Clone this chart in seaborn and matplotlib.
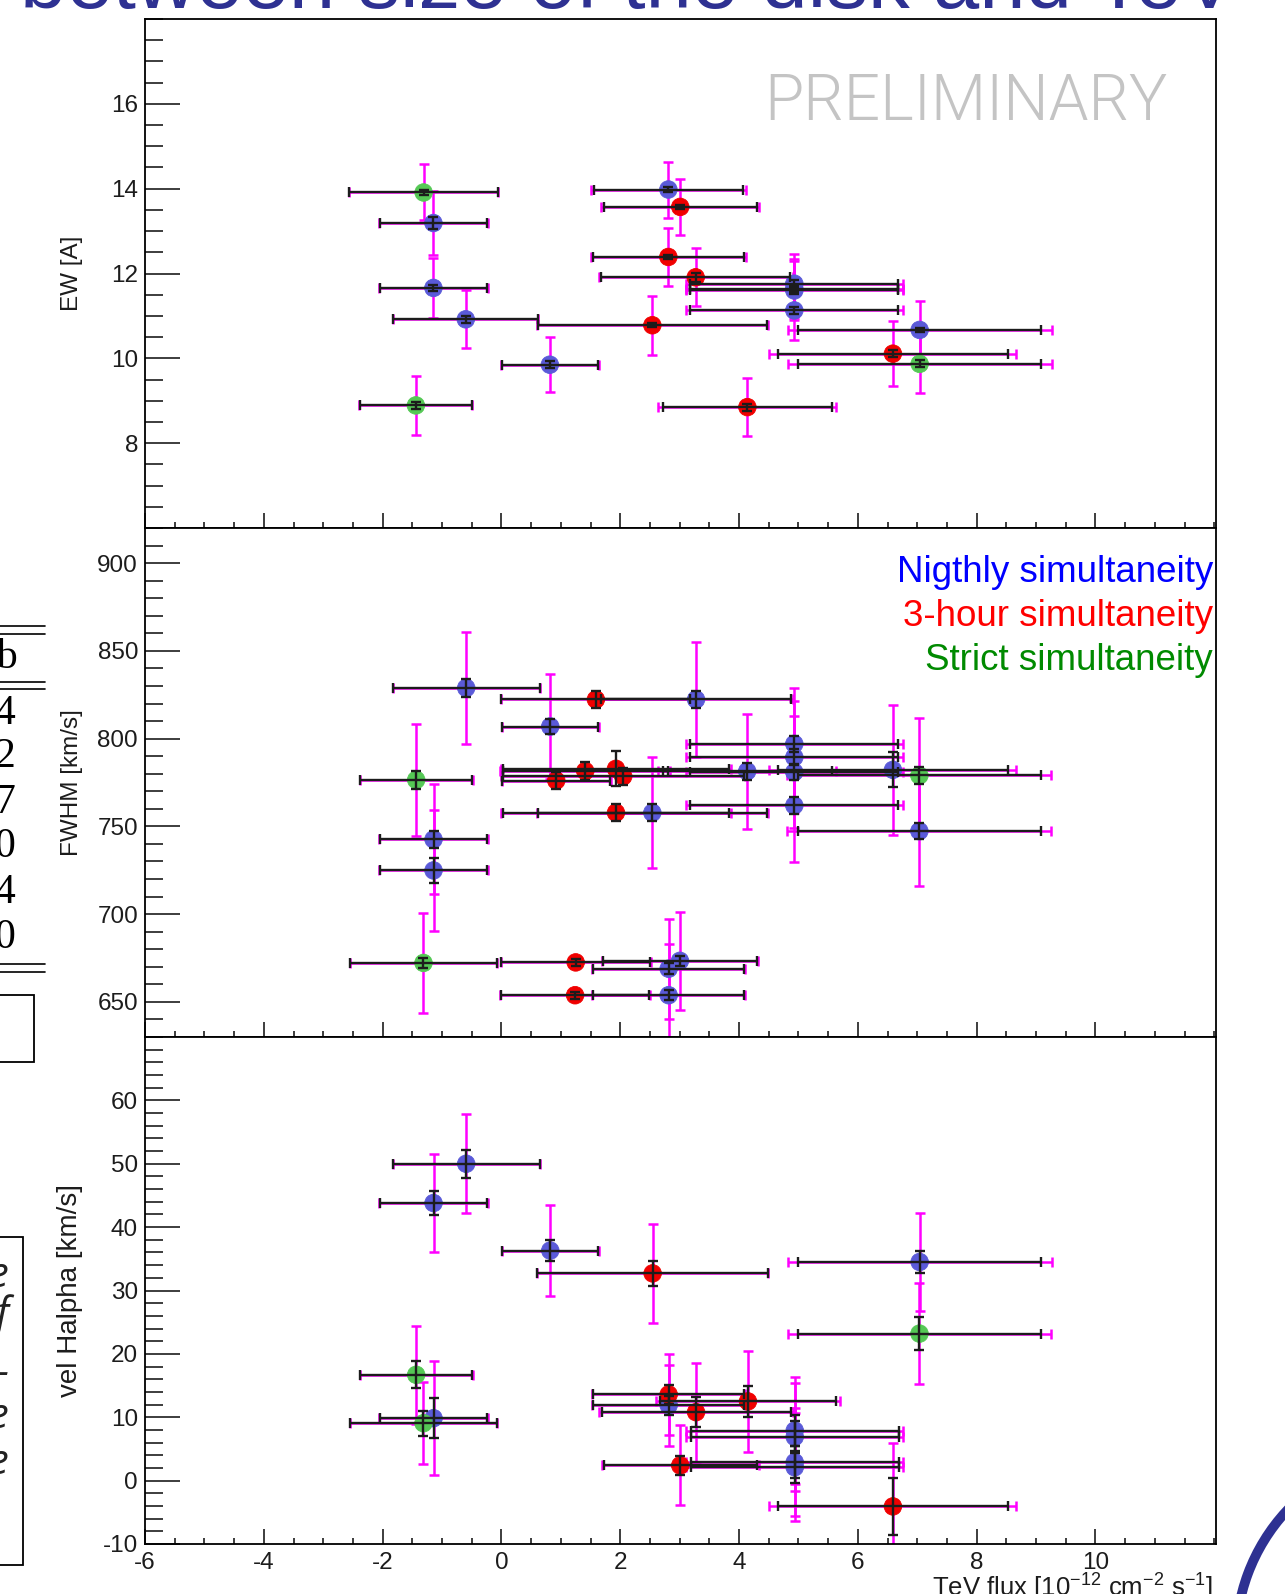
import numpy as np
import pandas as pd
import matplotlib
matplotlib.use("Agg")
import matplotlib.pyplot as plt
import seaborn as sns
from matplotlib.patches import Arc, Rectangle
from matplotlib.lines import Line2D
from matplotlib.ticker import MultipleLocator, FixedLocator, FormatStrFormatter

# ---------------- data ----------------
CATS = ["Nigthly", "3-hour", "Strict"]

# Panel 1 : EW [A]
EW_x    = [-1.31, -1.145, -1.145, -0.60, 0.815, -1.44, 2.81, 3.01, 2.81, 3.27, 4.93, 4.93, 4.93, 4.93, 2.54, 4.14, 7.04, 6.59, 7.04]
EW_xerr = [1.25, 0.90, 0.90, 1.22, 0.81, 0.94, 1.26, 1.29, 1.27, 1.59, 1.75, 1.75, 1.75, 1.75, 1.93, 1.42, 2.05, 1.93, 2.05]
EW_xsys = [1.25, 0.92, 0.92, 1.22, 0.82, 0.95, 1.30, 1.33, 1.30, 1.63, 1.83, 1.83, 1.83, 1.83, 1.94, 1.50, 2.22, 2.08, 2.22]
EW_y    = [13.91, 13.19, 11.66, 10.92, 9.85, 8.89, 13.98, 13.57, 12.39, 11.91, 11.76, 11.64, 11.60, 11.13, 10.78, 8.85, 10.67, 10.11, 9.87]
EW_yerr = [0.05, 0.14, 0.08, 0.08, 0.08, 0.08, 0.05, 0.05, 0.05, 0.10, 0.08, 0.08, 0.08, 0.08, 0.05, 0.08, 0.05, 0.08, 0.08]
EW_ysys = [0.66, 0.75, 0.71, 0.68, 0.65, 0.69, 0.66, 0.66, 0.68, 0.68, 0.70, 0.70, 0.70, 0.70, 0.69, 0.69, 0.67, 0.76, 0.68]
EW_cat  = ["Strict", "Nigthly", "Nigthly", "Nigthly", "Nigthly", "Strict", "Nigthly", "3-hour", "3-hour", "3-hour",
           "Nigthly", "Nigthly", "Nigthly", "Nigthly", "3-hour", "3-hour", "Nigthly", "3-hour", "Strict"]

# Panel 2 : FWHM [km/s]
FW_x    = [-0.593, 0.822, -1.143, -1.143, 3.276, 2.54, 4.137, 4.93, 4.93, 4.93, 4.93, 6.59, 7.035, 2.815, 3.005, 2.815,
           1.59, 0.923, 1.411, 1.928, 2.05, 1.928, 1.25, 1.24, -1.435, -1.312, 7.035]
FW_xerr = [1.24, 0.81, 0.90, 0.90, 1.60, 1.93, 1.42, 1.75, 1.75, 1.75, 1.75, 1.93, 2.05, 1.27, 1.29, 1.27,
           1.59, 0.91, 1.39, 1.91, 2.03, 1.91, 1.25, 1.24, 0.94, 1.245, 2.05]
FW_xsys = [1.24, 0.82, 0.92, 0.92, 1.63, 1.94, 1.50, 1.83, 1.83, 1.83, 1.83, 2.08, 2.22, 1.29, 1.32, 1.29,
           1.60, 0.92, 1.43, 1.93, 2.05, 1.93, 1.26, 1.26, 0.95, 1.245, 2.22]
FW_y    = [828.9, 806.9, 742.6, 724.9, 822.3, 757.8, 781.4, 797.0, 789.4, 780.9, 761.9, 782.2, 747.3, 668.9, 673.4, 653.8,
           822.3, 776.1, 781.5, 782.8, 778.5, 757.8, 672.5, 653.8, 776.5, 672.2, 779.0]
FW_yerr = [5, 4, 4.7, 7, 4.7, 4.7, 4.7, 4.7, 4.7, 4.7, 4.7, 10, 4.7, 3, 3, 3,
           5, 5, 5, 10, 5, 5, 2, 2, 5, 3, 5]
FW_ysys = [32, 30, 31.3, 34.5, 32.6, 31.7, 32.7, 32, 32, 32, 32, 37, 31.3, 28.5, 28, 29,
           0, 0, 0, 0, 0, 0, 0, 0, 32, 28.6, 32.6]
FW_cat  = ["Nigthly"] * 16 + ["3-hour"] * 8 + ["Strict"] * 3

# Panel 3 : vel Halpha [km/s]
VE_x    = [-0.593, -1.143, 0.822, 7.04, -1.143, 2.815, 4.937, 4.937, 4.937, 4.937,
           2.545, 2.815, 4.15, 3.276, 3.01, 6.59, -1.435, -1.312, 7.037]
VE_xerr = [1.24, 0.90, 0.81, 2.05, 0.90, 1.27, 1.75, 1.75, 1.75, 1.75,
           1.94, 1.27, 1.48, 1.59, 1.29, 1.93, 0.94, 1.245, 2.05]
VE_xsys = [1.24, 0.92, 0.82, 2.22, 0.92, 1.29, 1.83, 1.83, 1.83, 1.83,
           1.95, 1.29, 1.55, 1.63, 1.32, 2.08, 0.95, 1.245, 2.22]
VE_y    = [50.0, 43.8, 36.3, 34.5, 9.85, 11.9, 7.9, 6.9, 2.9, 2.1,
           32.7, 13.6, 12.5, 10.8, 2.4, -4.07, 16.7, 9.06, 23.2]
VE_yerr = [2.2, 1.9, 1.7, 1.8, 3.2, 1.5, 2.5, 2.5, 2.5, 2.5,
           2.0, 1.5, 2.5, 2.4, 1.5, 4.5, 2.1, 2.0, 2.6]
VE_ysys = [7.8, 7.7, 7.2, 7.7, 9.0, 6.4, 8.5, 8.5, 8.5, 8.5,
           7.8, 6.4, 8.0, 7.8, 6.3, 10.0, 7.7, 6.5, 8.0]
VE_cat  = ["Nigthly"] * 10 + ["3-hour"] * 6 + ["Strict"] * 3

X_TICKS = [-6, -4, -2, 0, 2, 4, 6, 8, 10]
EW_TICKS = [8, 10, 12, 14, 16]
FW_TICKS = [650, 700, 750, 800, 850, 900]
VE_TICKS = [-10, 0, 10, 20, 30, 40, 50, 60]

# ---------------- style ----------------
sns.set_theme(style="ticks")
plt.rcParams['font.family'] = ['Liberation Sans', 'DejaVu Sans']
plt.rcParams['axes.unicode_minus'] = False
plt.rcParams['mathtext.default'] = 'regular'

PAL = {"Nigthly": "#5a5ad8", "3-hour": "#f00000", "Strict": "#55c855"}
MAG = "#ff00ff"
INK = "#1c1c1c"

W, H = 1285, 1594
fig = plt.figure(figsize=(W / 100, H / 100), dpi=100)
fig.patch.set_facecolor("white")

def fy(py):
    return 1 - py / H

L, R = 145, 1215.5
ax_top = fig.add_axes([L / W, fy(528), (R - L) / W, (528 - 19) / H])
ax_mid = fig.add_axes([L / W, fy(1037), (R - L) / W, (1037 - 528) / H])
ax_bot = fig.add_axes([L / W, fy(1544), (R - L) / W, (1544 - 1037) / H])


def panel(ax, x, xe, xs, y, ye, ys, cat):
    df = pd.DataFrame(dict(px=x, pxe=xe, pxs=xs, py=y, pye=ye, pys=ys, cat=cat))
    ax.errorbar(df['px'], df['py'], xerr=df['pxs'], fmt='none', ecolor=MAG, elinewidth=1.8,
                capsize=3.8, capthick=1.8, zorder=2)
    m = df['pys'] > 0
    ax.errorbar(df['px'][m], df['py'][m], yerr=df['pys'][m], fmt='none', ecolor=MAG, elinewidth=1.8,
                capsize=3.8, capthick=1.8, zorder=2)
    sns.scatterplot(data=df, x='px', y='py', hue='cat', palette=PAL, hue_order=CATS,
                    s=160, linewidth=0.6, edgecolor='face', legend=False, ax=ax, zorder=3)
    ax.errorbar(df['px'], df['py'], xerr=df['pxe'], yerr=df['pye'], fmt='none', ecolor=INK, elinewidth=1.7,
                capsize=3.3, capthick=1.7, zorder=4)


def style_axis(ax, ylim, yticks, yminor, ylabel, show_x, lab_size=17.5):
    ax.set_xlim(-6, 12.02)
    ax.set_ylim(*ylim)
    ax.xaxis.set_major_locator(FixedLocator(X_TICKS))
    ax.xaxis.set_minor_locator(MultipleLocator(0.5))
    ax.yaxis.set_major_locator(FixedLocator(yticks))
    ax.yaxis.set_minor_locator(MultipleLocator(yminor))
    ax.xaxis.set_major_formatter(FormatStrFormatter('%d'))
    ax.yaxis.set_major_formatter(FormatStrFormatter('%d'))
    ax.tick_params(axis='y', which='major', direction='in', length=25, width=1.2,
                   labelsize=17.5, pad=5, left=True, right=False, colors=INK)
    ax.tick_params(axis='y', which='minor', direction='in', length=12.6, width=1.2,
                   left=True, right=False, colors=INK)
    ax.tick_params(axis='x', which='major', direction='in', length=10.8, width=1.2,
                   labelsize=17.5, pad=6, bottom=True, top=False, labelbottom=show_x, colors=INK)
    ax.tick_params(axis='x', which='minor', direction='in', length=4.5, width=1.2,
                   bottom=True, top=False, colors=INK)
    for s in ax.spines.values():
        s.set_color("black")
        s.set_linewidth(1.3)
    ax.set_xlabel("")
    ax.set_ylabel(ylabel, fontsize=lab_size, color=INK)
    ax.yaxis.set_label_coords(-0.058, 0.5)
    ax.set_facecolor("white")
    ax.grid(False)


panel(ax_top, EW_x, EW_xerr, EW_xsys, EW_y, EW_yerr, EW_ysys, EW_cat)
panel(ax_mid, FW_x, FW_xerr, FW_xsys, FW_y, FW_yerr, FW_ysys, FW_cat)
panel(ax_bot, VE_x, VE_xerr, VE_xsys, VE_y, VE_yerr, VE_ysys, VE_cat)

style_axis(ax_top, (6, 18), EW_TICKS, 0.5, "EW [A]", False)
style_axis(ax_mid, (630, 920), FW_TICKS, 10, "FWHM [km/s]", False)
style_axis(ax_bot, (-10, 70), VE_TICKS, 2, "vel Halpha [km/s]", True, lab_size=20)

# texts inside the chart
fig.text(1167 / W, fy(120), "PRELIMINARY", ha='right', va='baseline', fontsize=46,
         color='#c4c4c4', family=['Roboto', 'Lato', 'DejaVu Sans'], weight=300)
fig.text(1213 / W, fy(572), "Nigthly simultaneity", ha='right', va='center', fontsize=26.5, color='#0000ff')
fig.text(1213 / W, fy(616), "3-hour simultaneity", ha='right', va='center', fontsize=26.5, color='#ff0000')
fig.text(1213 / W, fy(661), "Strict simultaneity", ha='right', va='center', fontsize=26.5, color='#008a00')
fig.text(1213 / W, fy(1597), r"TeV flux [10$^{-12}$ cm$^{-2}$ s$^{-1}$]", ha='right', va='baseline',
         fontsize=18.5, color=INK)

# slide fragments around the chart
NAVY = '#2e3192'
fig.text(20 / W, fy(8), "between size of the disk and TeV", ha='left', va='baseline',
         fontsize=60, color=NAVY)

def hline(y, x0, x1, lw=1.2, color='black'):
    fig.add_artist(Line2D([x0 / W, x1 / W], [fy(y), fy(y)], transform=fig.transFigure,
                          color=color, lw=lw))

for yy in (626, 634, 682, 689, 964, 972):
    hline(yy, 0, 45)
SERIF = ['Liberation Serif', 'DejaVu Serif']
fig.text(17 / W, fy(668), "b", ha='right', va='baseline', fontsize=30, family=SERIF, color='black')
for ch, yb in zip("427040", (724, 767.5, 813, 857, 903, 947.5)):
    fig.text(15 / W, fy(yb), ch, ha='right', va='baseline', fontsize=30, family=SERIF, color='black')
fig.add_artist(Rectangle((-5 / W, fy(1062)), 38.5 / W, 67 / H, transform=fig.transFigure,
                         fill=False, lw=1.3, edgecolor='black'))
fig.add_artist(Rectangle((-5 / W, fy(1565)), 27.5 / W, 328 / H, transform=fig.transFigure,
                         fill=False, lw=1.3, edgecolor='black'))
for ch, yb in zip(["e", "f", "-", "e", "e"], (1287, 1327, 1385, 1428, 1474)):
    fig.text(9 / W, fy(yb), ch, ha='right', va='baseline', fontsize=30, style='italic',
             family=['Open Sans', 'DejaVu Sans'], color='#222222')
fig.add_artist(Arc((1426 / W, fy(1640)), 380 / W, 380 / H, theta1=120, theta2=200,
                   transform=fig.transFigure, color=NAVY, lw=7))

fig.savefig("out.png", dpi=100, facecolor="white")
